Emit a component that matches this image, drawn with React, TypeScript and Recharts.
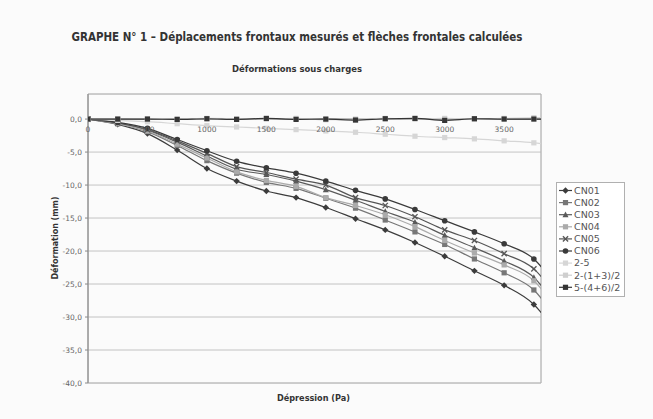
import React from "react";
import {
  LineChart,
  Line,
  XAxis,
  YAxis,
  CartesianGrid,
  ReferenceLine,
  ReferenceArea,
  ReferenceDot,
} from "recharts";

// Déformations sous charges — frontal displacements vs. pressure.
// Values; the 4000 Pa point sits past the
// axis end and is clipped, as in the original.

const PRESSURE = [0, 250, 500, 750, 1000, 1250, 1500, 1750, 2000, 2250, 2500, 2750, 3000, 3250, 3500, 3750, 4000];

const CN01 = [0, -0.8, -2.2, -4.7, -7.5, -9.4, -10.9, -11.9, -13.4, -15.1, -16.8, -18.7, -20.8, -23.0, -25.2, -28.1, -34.0];
const CN02 = [0, -0.7, -1.9, -4.0, -6.3, -8.2, -9.6, -10.5, -12.0, -13.5, -15.3, -17.1, -19.0, -21.2, -23.3, -25.9, -32.0];
const CN03 = [0, -0.6, -1.7, -3.5, -5.6, -7.6, -8.4, -9.4, -10.7, -12.3, -14.0, -15.6, -17.6, -19.5, -21.5, -24.0, -30.0];
const CN04 = [0, -0.7, -1.8, -3.8, -5.9, -8.0, -9.3, -10.2, -11.9, -13.1, -14.5, -16.3, -18.4, -20.3, -22.1, -24.5, -30.5];
const CN05 = [0, -0.6, -1.6, -3.3, -5.2, -7.2, -8.1, -9.1, -10.0, -11.9, -13.1, -14.8, -16.8, -18.4, -20.4, -22.7, -28.5];
const CN06 = [0, -0.5, -1.4, -3.1, -4.8, -6.4, -7.4, -8.2, -9.4, -10.8, -12.1, -13.7, -15.4, -17.1, -18.9, -21.2, -27.0];
const D_2_5 = [0, -0.2, -0.4, -0.7, -1.0, -1.2, -1.4, -1.6, -1.8, -2.0, -2.3, -2.6, -2.8, -3.0, -3.3, -3.6, -4.2];
const D_2_13 = [0, 0, 0.05, 0, 0.1, 0.05, 0, 0.1, -0.1, 0, 0.1, 0, 0.1, 0, 0.1, 0.2, 0.3];
const D_5_46 = [0, 0, 0, -0.05, 0.05, -0.05, 0.1, -0.05, 0, -0.15, 0.05, 0.1, -0.2, 0.05, 0, 0, 0];

const X_MAX = 3810;
const Y_MAX = 3.8;
const X_TICKS = [0, 500, 1000, 1500, 2000, 2500, 3000, 3500];
const Y_TICKS = [-40, -35, -30, -25, -20, -15, -10, -5, 0];

type Shape = "diamond" | "square" | "triangle" | "x" | "circle" | "none";

const SERIES: { key: string; values: number[]; color: string; shape: Shape }[] = [
  { key: "CN01", values: CN01, color: "#3c3c3c", shape: "diamond" },
  { key: "CN02", values: CN02, color: "#777777", shape: "square" },
  { key: "CN03", values: CN03, color: "#5a5a5a", shape: "triangle" },
  { key: "CN04", values: CN04, color: "#ababab", shape: "square" },
  { key: "CN05", values: CN05, color: "#555555", shape: "x" },
  { key: "CN06", values: CN06, color: "#3a3a3a", shape: "circle" },
  { key: "2-5", values: D_2_5, color: "#d6d6d6", shape: "square" },
  { key: "2-(1+3)/2", values: D_2_13, color: "#cfcfcf", shape: "square" },
  { key: "5-(4+6)/2", values: D_5_46, color: "#353535", shape: "square" },
];

const DATA = PRESSURE.map((p, i) => {
  const row: Record<string, number> = { p };
  SERIES.forEach((s) => (row[s.key] = s.values[i]));
  return row;
});

const FONT = "'DejaVu Sans', Verdana, sans-serif";

function Marker({ cx, cy, shape, color }: { cx: number; cy: number; shape: Shape; color: string }) {
  const h = 2.6;
  switch (shape) {
    case "diamond":
      return <polygon points={`${cx},${cy - h - 0.6} ${cx + h + 0.6},${cy} ${cx},${cy + h + 0.6} ${cx - h - 0.6},${cy}`} fill={color} />;
    case "square":
      return <rect x={cx - h} y={cy - h} width={h * 2} height={h * 2} fill={color} />;
    case "triangle":
      return <polygon points={`${cx},${cy - h - 0.5} ${cx + h + 0.4},${cy + h} ${cx - h - 0.4},${cy + h}`} fill={color} />;
    case "x":
      return (
        <g stroke={color} strokeWidth={1.3}>
          <line x1={cx - h} y1={cy - h} x2={cx + h} y2={cy + h} />
          <line x1={cx - h} y1={cy + h} x2={cx + h} y2={cy - h} />
        </g>
      );
    case "circle":
      return <circle cx={cx} cy={cy} r={h + 0.2} fill={color} />;
    default:
      return null;
  }
}

const fmt = (v: number) => v.toFixed(1).replace(".", ",");

function Legend() {
  return (
    <svg width={70} height={116} style={{ position: "absolute", left: 556, top: 182 }}>
      <rect x={0.5} y={0.5} width={68} height={114} fill="#fff" stroke="#b0b0b0" />
      {SERIES.map((s, i) => {
        const y = 8.5 + i * 12.1;
        return (
          <g key={s.key}>
            <line x1={3} x2={16} y1={y} y2={y} stroke={s.color} strokeWidth={1.2} />
            <Marker cx={9.5} cy={y} shape={s.shape} color={s.color} />
            <text x={18} y={y + 3.3} fontSize={9.5} fill="#555" fontFamily={FONT}>
              {s.key}
            </text>
          </g>
        );
      })}
    </svg>
  );
}

export default function App() {
  return (
    <div style={{ position: "absolute", left: 0, top: 0, width: 653, height: 419, background: "#fbfbfb", fontFamily: FONT }}>
      <svg width={653} height={419} style={{ position: "absolute", left: 0, top: 0 }}>
        <text x={297} y={41} textAnchor="middle" fontSize={12.5} fontWeight="bold" fill="#333" textLength={451} lengthAdjust="spacingAndGlyphs">
          GRAPHE N° 1 – Déplacements frontaux mesurés et flèches frontales calculées
        </text>
        <text x={297} y={71.5} textAnchor="middle" fontSize={9.5} fontWeight="bold" fill="#333" textLength={130} lengthAdjust="spacingAndGlyphs">
          Déformations sous charges
        </text>
        <text x={313.5} y={401} textAnchor="middle" fontSize={9} fontWeight="bold" fill="#333" textLength={73} lengthAdjust="spacingAndGlyphs">
          Dépression (Pa)
        </text>
        <text x={58} y={238} textAnchor="middle" fontSize={9} fontWeight="bold" fill="#333" transform="rotate(-90 58 238)" textLength={83} lengthAdjust="spacingAndGlyphs">
          Déformation (mm)
        </text>
      </svg>
      <div style={{ position: "absolute", left: 0, top: 0 }}>
        <LineChart width={653} height={419} data={DATA} margin={{ top: 94, left: 58, right: 112, bottom: 36 }}>
          <CartesianGrid stroke="#b5b5b5" strokeWidth={0.8} />
          <XAxis
            type="number"
            dataKey="p"
            domain={[0, X_MAX]}
            ticks={X_TICKS}
            allowDataOverflow
            tick={false}
            tickLine={false}
            axisLine={false}
            height={0}
          />
          <YAxis
            type="number"
            domain={[-40, Y_MAX]}
            ticks={Y_TICKS}
            allowDataOverflow
            width={30}
            tickSize={3}
            tickMargin={3}
            tickFormatter={fmt}
            tick={{ fontSize: 7.5, fill: "#666", fontFamily: FONT }}
            axisLine={{ stroke: "#8a8a8a" }}
            tickLine={{ stroke: "#8a8a8a" }}
          />
          <ReferenceArea x1={0} x2={X_MAX} y1={-40} y2={Y_MAX} fill="none" stroke="#b0b0b0" strokeWidth={0.8} />
          <ReferenceLine y={0} stroke="#777" strokeWidth={1} />
          {X_TICKS.map((v) => (
            <ReferenceDot
              key={v}
              x={v}
              y={0}
              r={0.5}
              fill="none"
              stroke="none"
              label={{ value: String(v), position: "bottom", offset: 7, fontSize: 7.5, fill: "#666", fontFamily: FONT }}
            />
          ))}
          {SERIES.map((s) => (
            <Line
              key={s.key}
              type="monotone"
              dataKey={s.key}
              stroke={s.color}
              strokeWidth={1.2}
              isAnimationActive={false}
              dot={(props: any) => {
                const k = `${s.key}-${props.index}`;
                if (props.payload.p > X_MAX) return <g key={k} />;
                return (
                  <g key={k}>
                    <Marker cx={props.cx} cy={props.cy} shape={s.shape} color={s.color} />
                  </g>
                );
              }}
              activeDot={false}
            />
          ))}
        </LineChart>
      </div>
      <Legend />
    </div>
  );
}
